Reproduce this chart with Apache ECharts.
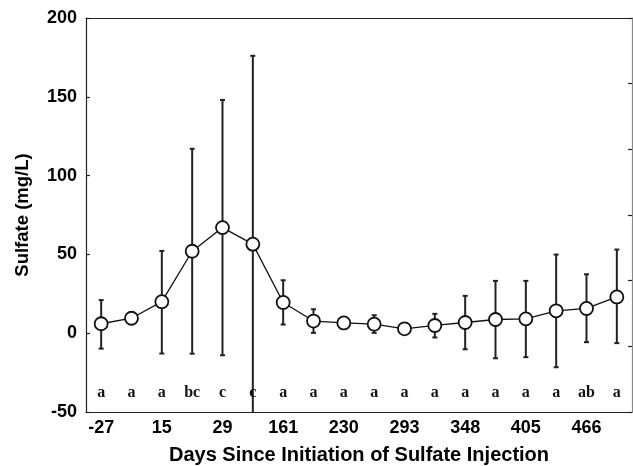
<!DOCTYPE html>
<html>
<head>
<meta charset="utf-8">
<script src="https://cdn.jsdelivr.net/npm/echarts@6/dist/echarts.min.js"></script>
<style>html,body{margin:0;padding:0;background:#fff}#c{width:633px;height:466px}</style>
</head>
<body>
<div id="c"></div>
<script>
// Day labels (only every other category is labelled in the source)
var dayLabels = ['-27','','15','','29','','161','','230','','293','','348','','405','','466',''];
// Mean sulfate (mg/L)
var meanValues = [6, 9.5, 20, 52, 67, 56.5, 19.5, 7.7, 6.5, 5.7, 2.8, 4.9, 6.8, 8.7, 9.1, 14.2, 15.7, 23];
// Error bar upper and lower ends (mg/L); null = no bar visible
var upperValues = [21, null, 52.2, 117, 148, 176, 33.6, 15.2, 9.3, 11.4, null, 12.3, 23.7, 33.2, 33.2, 49.9, 37.4, 53.1];
var lowerValues = [-9.8, null, -12.9, -13, -14, -62, 5.5, 0.2, 3.5, 0.2, null, -2.7, -10.2, -15.9, -15.2, -21.6, -5.7, -6.3];
// Significance letters
var groupLetters = ['a','a','a','bc','c','c','a','a','a','a','a','a','a','a','a','a','ab','a'];
var letterLevel = -43;
var yTicks = [-50, 0, 50, 100, 150, 200];

var chart = echarts.init(document.getElementById('c'));
var bold = {fontFamily: 'Liberation Sans, Arial, sans-serif', fontWeight: 'bold', color: '#000'};
var axisLineStyle = {color: '#222', width: 1.2};

var errData = meanValues.map(function (m, i) { return [i, upperValues[i], lowerValues[i]]; });
var letterData = groupLetters.map(function (t, i) { return [i, letterLevel, t]; });

chart.setOption({
  animation: false,
  grid: {left: 86, right: 1, top: 18, bottom: 54, containLabel: false, outerBoundsMode: 'none'},
  xAxis: [{
    type: 'category', data: dayLabels, position: 'bottom', boundaryGap: true,
    axisLine: {onZero: false, lineStyle: axisLineStyle},
    axisTick: {inside: true, length: 4, alignWithLabel: true, interval: 0, lineStyle: {color: '#222', width: 1.2}},
    axisLabel: Object.assign({fontSize: 18, margin: 7, interval: 0}, bold),
    name: 'Days Since Initiation of Sulfate Injection', nameLocation: 'middle', nameGap: 33,
    nameTextStyle: Object.assign({fontSize: 20}, bold)
  }, {
    type: 'category', data: dayLabels, position: 'top', boundaryGap: true,
    axisLine: {onZero: false, lineStyle: axisLineStyle},
    axisTick: {inside: true, length: 4, alignWithLabel: true, interval: 0, lineStyle: {color: '#222', width: 1.2}},
    axisLabel: {show: false}
  }],
  yAxis: [{
    type: 'value', min: yTicks[0], max: yTicks[yTicks.length - 1], interval: 50,
    axisLine: {show: true, onZero: false, lineStyle: axisLineStyle},
    axisTick: {show: true, inside: true, length: 4, lineStyle: {color: '#222', width: 1.2}},
    splitLine: {show: false},
    axisLabel: Object.assign({fontSize: 18, margin: 9}, bold),
    name: 'Sulfate (mg/L)', nameLocation: 'middle', nameGap: 54, nameRotate: 90,
    nameTextStyle: Object.assign({fontSize: 18.5}, bold)
  }, {
    type: 'value', min: 0, max: 6, interval: 1, position: 'right',
    axisLine: {show: true, onZero: false, lineStyle: {color: '#888', width: 1.2}},
    axisTick: {show: true, inside: true, length: 4, lineStyle: {color: '#222', width: 1.2}},
    splitLine: {show: false},
    axisLabel: {show: false}
  }],
  series: [{
    type: 'custom', xAxisIndex: 0, yAxisIndex: 0, clip: true, z: 2,
    data: errData,
    renderItem: function (params, api) {
      var up = api.value(1), lo = api.value(2);
      if (up == null || lo == null || isNaN(up) || isNaN(lo)) return null;
      var x = api.value(0);
      var pu = api.coord([x, up]), pl = api.coord([x, lo]);
      var cw = 2.5;
      var st = {stroke: '#222', lineWidth: 2};
      return {type: 'group', children: [
        {type: 'line', shape: {x1: pu[0], y1: pu[1], x2: pl[0], y2: pl[1]}, style: st},
        {type: 'line', shape: {x1: pu[0] - cw, y1: pu[1], x2: pu[0] + cw, y2: pu[1]}, style: st},
        {type: 'line', shape: {x1: pl[0] - cw, y1: pl[1], x2: pl[0] + cw, y2: pl[1]}, style: st}
      ]};
    }
  }, {
    type: 'line', xAxisIndex: 0, yAxisIndex: 0, data: meanValues, z: 5,
    symbol: 'circle', symbolSize: 13,
    lineStyle: {color: '#111', width: 1.3},
    itemStyle: {color: '#fff', borderColor: '#111', borderWidth: 1.8}
  }, {
    type: 'custom', xAxisIndex: 0, yAxisIndex: 0, z: 6,
    data: letterData,
    renderItem: function (params, api) {
      var p = api.coord([api.value(0), api.value(1)]);
      return {type: 'text', x: p[0], y: p[1], style: {
        text: groupLetters[params.dataIndex], fill: '#111',
        font: 'bold 16px "Liberation Serif", "Times New Roman", serif',
        textAlign: 'center', textVerticalAlign: 'bottom'
      }};
    }
  }]
});
</script>
</body>
</html>
